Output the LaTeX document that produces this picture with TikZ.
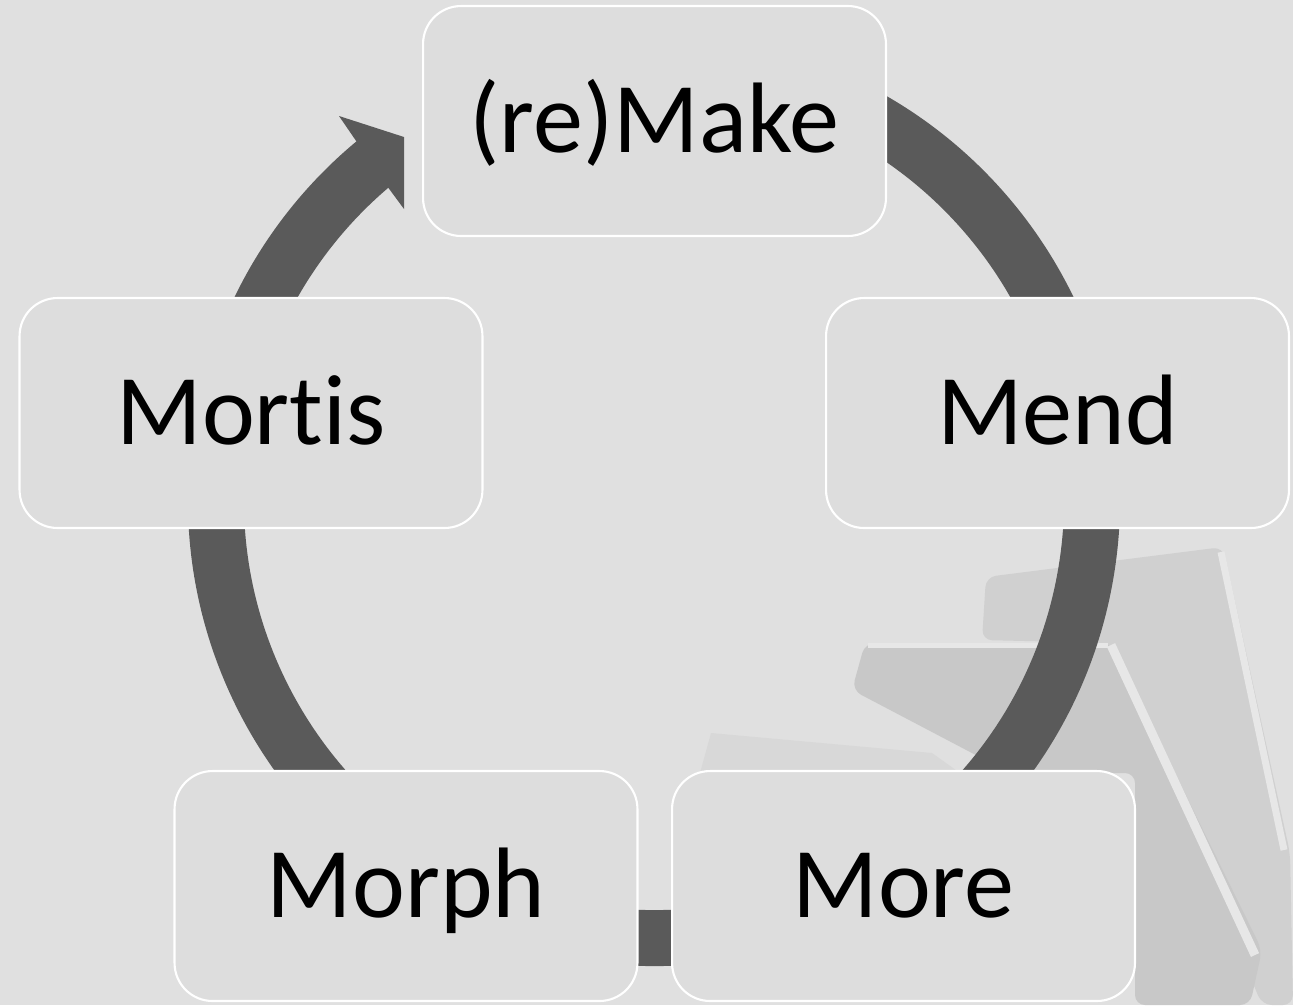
\documentclass[tikz,border=0pt]{standalone}
\usepackage{fontspec}
\setmainfont[Ligatures=NoCommon]{Carlito}
\definecolor{fon}{HTML}{E0E0E0}
\definecolor{blok}{HTML}{DDDDDD}
\definecolor{strelka}{HTML}{5A5A5A}
\definecolor{kniga}{HTML}{D0D0D0}
\definecolor{kraj}{HTML}{E7E7E7}
\begin{document}
\begin{tikzpicture}[x=0.02cm, y=-0.02cm,
        stage/.style={draw=white, line width=1.2pt, fill=blok,
            rounded corners=0.76cm, minimum width=9.26cm, minimum height=4.6cm,
            inner sep=0pt, font=\fontsize{57}{68}\selectfont,
            text height=36pt, text depth=0pt}]
    % Фон
    \useasboundingbox (0,0) rectangle (1293,1005);
    \fill[fon] (0,0) rectangle (1293,1005);

    % Книги на фоне
    \fill[kniga, rounded corners=0.2cm] (986,577) -- (1223,547) -- (1290,853)
        -- (1293,1005) -- (1262,1005) -- (1111,643) -- (982,640) -- cycle;
    \draw[kraj, line width=0.14cm] (1221,552) -- (1284,850);
    \fill[kniga!96!black, rounded corners=0.2cm] (865,643) -- (1111,643)
        -- (1262,950) -- (1250,1005) -- (1135,1005) -- (1135,773)
        -- (1010,773) -- (852,690) -- cycle;
    \draw[kraj, line width=0.18cm] (1111,645) -- (1255,955);
    \draw[kraj, line width=0.1cm] (868,645) -- (1108,645);
    \fill[kniga!50!fon] (711,733) -- (932,753) -- (960,773) -- (700,773) -- cycle;

    % Круговая стрелка
    \coordinate (hub) at (654,500);
    \draw[strelka, line width=1.12cm] (hub) ++(-80:438)
        arc[start angle=-80, end angle=231, radius=438];
    \fill[strelka] (339,116) -- (404,137) -- (404,209) -- (387,186) -- cycle;

    % Блоки
    \node[stage] (make)   at (654.5,121) {(re)Make};
    \node[stage] (mend)   at (1057.5,413) {Mend};
    \node[stage] (more)   at (903.5,886) {More};
    \node[stage] (morph)  at (406,886) {Morph};
    \node[stage] (mortis) at (251,413) {Mortis};
\end{tikzpicture}
\end{document}
